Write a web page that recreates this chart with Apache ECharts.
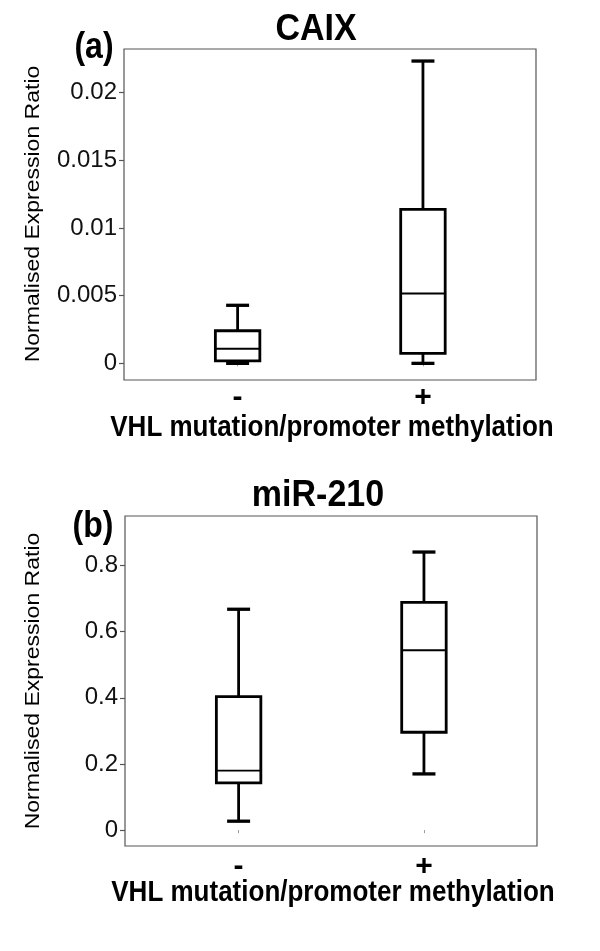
<!DOCTYPE html>
<html>
<head>
<meta charset="utf-8">
<script src="https://cdn.jsdelivr.net/npm/echarts@6/dist/echarts.min.js"></script>
<style>
  html, body { margin: 0; padding: 0; background: #fff; }
  #chart { width: 600px; height: 951px; }
</style>
</head>
<body>
<div id="chart"></div>
<script>
// groups on the x axis
const groups = ['-', '+'];

// box stats: min, Q1, median, Q3, max
const caixNeg = [0.0000, 0.00019, 0.00108, 0.00241, 0.00429];
const caixPos = [0.0000, 0.00074, 0.00517, 0.01138, 0.02234];
const mirNeg = [0.027, 0.143, 0.180, 0.404, 0.668];
const mirPos = [0.170, 0.296, 0.544, 0.689, 0.841];

// tick labels
const caixTicks = [0, 0.005, 0.01, 0.015, 0.02];
const mirTicks = [0, 0.2, 0.4, 0.6, 0.8];

const titles = ['CAIX', 'miR-210'];
const panelTags = ['(a)', '(b)'];
const yName = 'Normalised Expression Ratio';
const xName = 'VHL mutation/promoter methylation';

const font = 'Liberation Sans, Arial, sans-serif';

let toRows = (neg, pos) => [neg, pos].map((s, i) => [i + 1].concat(s));

let boxItem = (medWidth) => (params, api) => {
    let x = api.value(0);
    let lo = api.value(1), q1 = api.value(2), med = api.value(3), q3 = api.value(4), hi = api.value(5);
    let hw = 0.12, cw = 0.062;
    let p = (xx, yy) => api.coord([xx, yy]);
    let line = (a, b, w) => ({
        type: 'line',
        shape: { x1: a[0], y1: a[1], x2: b[0], y2: b[1] },
        style: { stroke: '#000', lineWidth: w }
    });
    let tl = p(x - hw, q3), br = p(x + hw, q1);
    return {
        type: 'group',
        children: [
            line(p(x, q3), p(x, hi), 2.8),
            line(p(x, q1), p(x, lo), 2.8),
            line(p(x - cw, hi), p(x + cw, hi), 3.3),
            line(p(x - cw, lo), p(x + cw, lo), 3.3),
            {
                type: 'rect',
                shape: { x: tl[0], y: tl[1], width: br[0] - tl[0], height: br[1] - tl[1] },
                style: { fill: '#fff', stroke: '#000', lineWidth: 2.8 }
            },
            line(p(x - hw, med), p(x + hw, med), medWidth)
        ]
    };
};

let xAxisOpt = (gridIndex, margin) => ({
    type: 'value',
    gridIndex: gridIndex,
    min: 0.387,
    max: 2.61,
    splitLine: { show: false },
    axisLine: { show: false },
    axisTick: { show: true, length: 3, customValues: [1, 2], lineStyle: { color: '#999', width: 1 } },
    axisLabel: {
        customValues: [1, 2],
        formatter: v => groups[Math.round(v) - 1],
        margin: margin,
        fontSize: 30,
        fontWeight: 'bold',
        fontFamily: font,
        color: '#000'
    }
});

let yAxisOpt = (gridIndex, min, max, ticks) => ({
    type: 'value',
    gridIndex: gridIndex,
    min: min,
    max: max,
    splitLine: { show: false },
    axisLine: { show: false },
    axisTick: { show: true, length: 5, customValues: ticks, lineStyle: { color: '#555', width: 1.2 } },
    axisLabel: {
        customValues: ticks,
        formatter: v => String(v),
        margin: 7,
        fontSize: 24,
        fontFamily: font,
        color: '#111'
    }
});

let txt = (text, x, y, size, bold, extra) => Object.assign({
    type: 'text',
    x: x,
    y: y,
    style: {
        text: text,
        fontSize: size,
        fontWeight: bold ? 'bold' : 'normal',
        fontFamily: font,
        fill: '#000',
        align: 'center',
        verticalAlign: 'middle'
    }
}, extra || {});

const chart = echarts.init(document.getElementById('chart'), null, { renderer: 'canvas' });

const option = {
    animation: false,
    backgroundColor: '#fff',
    grid: [
        { left: 124, top: 49, width: 412, height: 331, show: true, borderColor: '#555', borderWidth: 1.2, backgroundColor: 'transparent' },
        { left: 125, top: 516, width: 412, height: 330, show: true, borderColor: '#555', borderWidth: 1.2, backgroundColor: 'transparent' }
    ],
    xAxis: [xAxisOpt(0, 3), xAxisOpt(1, 6)],
    yAxis: [
        yAxisOpt(0, -0.00123, 0.02323, caixTicks),
        yAxisOpt(1, -0.048, 0.950, mirTicks)
    ],
    series: [
        {
            type: 'custom',
            xAxisIndex: 0,
            yAxisIndex: 0,
            renderItem: boxItem(2),
            encode: { x: 0, y: [1, 2, 3, 4, 5] },
            data: toRows(caixNeg, caixPos)
        },
        {
            type: 'custom',
            xAxisIndex: 1,
            yAxisIndex: 1,
            renderItem: boxItem(1.8),
            encode: { x: 0, y: [1, 2, 3, 4, 5] },
            data: toRows(mirNeg, mirPos)
        }
    ],
    graphic: [
        txt(titles[0], 316, 30, 34, true, { scaleY: 1.08 }),
        txt(titles[1], 318, 496, 34, true, { scaleY: 1.08 }),
        txt(panelTags[0], 94, 48, 32, true, { scaleY: 1.15 }),
        txt(panelTags[1], 93, 527, 32, true, { scaleY: 1.15 }),
        txt(yName, 33, 214, 20, false, { rotation: Math.PI / 2, scaleX: 1.15 }),
        txt(yName, 33, 681, 20, false, { rotation: Math.PI / 2, scaleX: 1.15 }),
        txt(xName, 332, 428, 26, true, { scaleY: 1.1 }),
        txt(xName, 333, 893, 26, true, { scaleY: 1.1 })
    ]
};

chart.setOption(option);
</script>
</body>
</html>
